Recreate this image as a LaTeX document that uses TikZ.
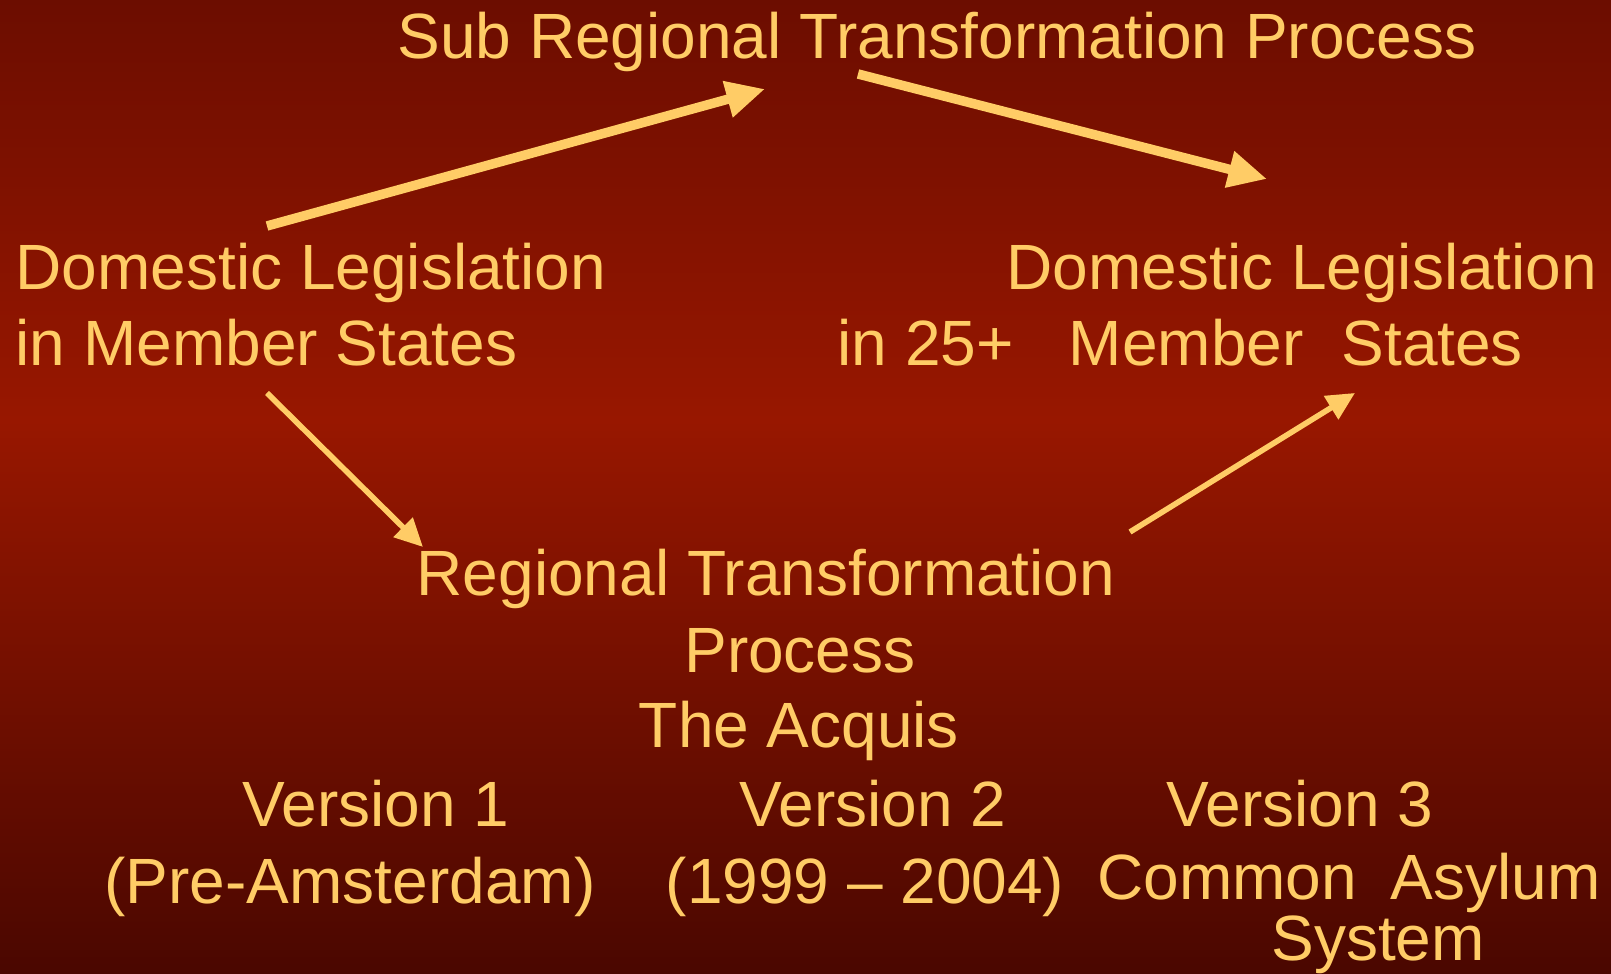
\documentclass[tikz,border=0pt]{standalone}
\usepackage{fontspec}
\setmainfont{Liberation Sans}
\usetikzlibrary{arrows.meta}
\definecolor{slidetop}{HTML}{6C0D00}
\definecolor{slidemid}{HTML}{981700}
\definecolor{slidebot}{HTML}{4A0700}
\definecolor{slidetext}{HTML}{FFCC66}
\begin{document}
\begin{tikzpicture}[x=0.01cm,y=-0.01cm,
  slidelabel/.style={text=slidetext, font=\fontsize{18.2}{21}\selectfont, inner sep=0pt},
  bigarrow/.style={slidetext, line width=2.7pt, -{Triangle[length=11pt,width=10pt]}},
  smallarrow/.style={slidetext, line width=1.6pt, -{Triangle[length=8pt,width=7.5pt]}}]
		% background
		\fill[top color=slidetop, bottom color=slidemid] (0,0) rectangle (1611,420);
		\fill[top color=slidemid, bottom color=slidebot] (0,420) rectangle (1611,974);
		\useasboundingbox (0,0) rectangle (1611,974);
		% texts
		\node[slidelabel, anchor=base] (subreg) at (937,59) {Sub Regional Transformation Process};
		\node[slidelabel, anchor=base west] (domleft) at (15,290) {Domestic Legislation};
		\node[slidelabel, anchor=base west] (msleft) at (15,366) {in Member States};
		\node[slidelabel, anchor=base east] (domright) at (1598,290) {Domestic Legislation};
		\node[slidelabel, anchor=base west] (msright) at (837,366) {in 25+\hspace{0.55cm}Member\hspace{0.38cm}States};
		\node[slidelabel, anchor=base] (regtrans) at (766,596) {Regional Transformation};
		\node[slidelabel, anchor=base] (regproc) at (800,673) {Process};
		\node[slidelabel, anchor=base] (acquis) at (799,748) {The Acquis};
		\node[slidelabel, anchor=base] (vone) at (376,827) {Version 1};
		\node[slidelabel, anchor=base] (vonedate) at (350,904) {(Pre-Amsterdam)};
		\node[slidelabel, anchor=base] (vtwo) at (873,827) {Version 2};
		\node[slidelabel, anchor=base] (vtwodate) at (865,904) {(1999 -- 2004)};
		\node[slidelabel, anchor=base] (vthree) at (1300,827) {Version 3};
		\node[slidelabel, anchor=base, align=center, font=\fontsize{18.2}{16.2}\selectfont] (vthreename) at (1349,961)
			{Common\hspace{0.34cm}Asylum\\\hspace*{0.58cm}System};
		% arrow ends
		\coordinate (leftup) at (267,226);
		\coordinate (subin) at (765,89);
		\coordinate (subout) at (858,74);
		\coordinate (rightdown) at (1267,179);
		\coordinate (leftdown) at (267,393);
		\coordinate (regin) at (423,547);
		\coordinate (regout) at (1130,532);
		\coordinate (rightup) at (1355,393);
		% arrows
		\draw[bigarrow] (leftup) -- (subin);
		\draw[bigarrow] (subout) -- (rightdown);
		\draw[smallarrow] (leftdown) -- (regin);
		\draw[smallarrow] (regout) -- (rightup);
\end{tikzpicture}
\end{document}
